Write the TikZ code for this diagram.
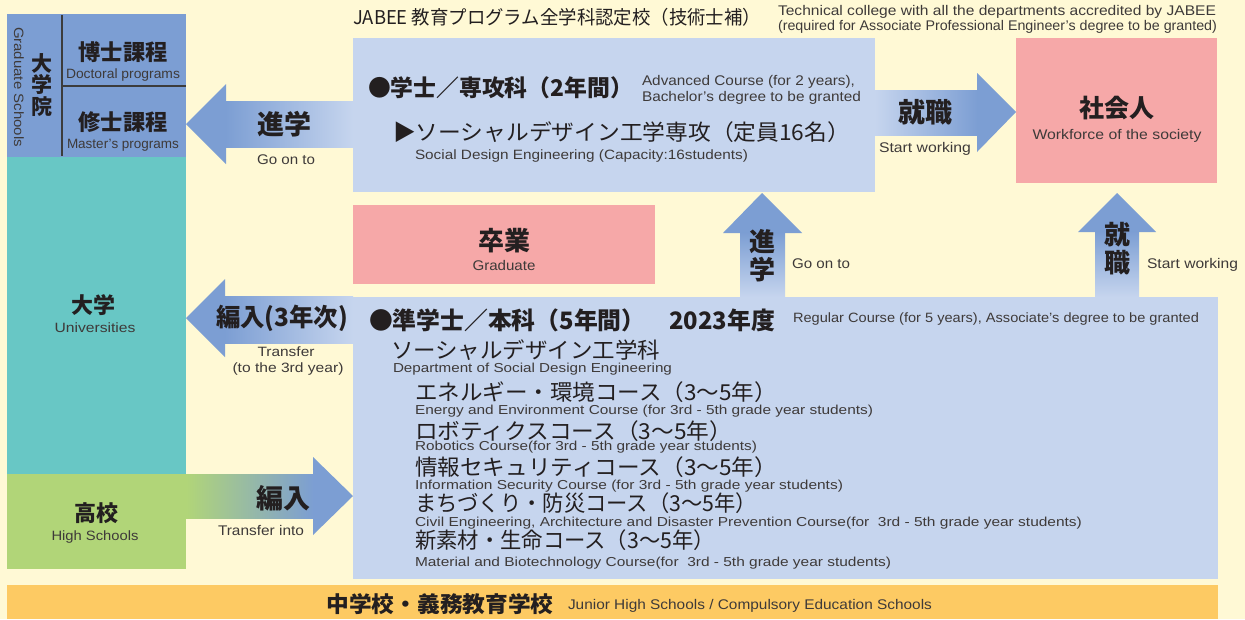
\documentclass[tikz,border=0pt]{standalone}
\usepackage{fontspec}
\usepackage{graphicx}
\setmainfont{Liberation Sans}
\newfontfamily\jp{Noto Sans CJK JP}
\definecolor{cBg}{HTML}{FFF9D5}
\definecolor{cDblue}{HTML}{7C9ED3}
\definecolor{cLblue}{HTML}{C6D5EE}
\definecolor{cTeal}{HTML}{68C7C5}
\definecolor{cGreen}{HTML}{B1D578}
\definecolor{cPink}{HTML}{F6A8A8}
\definecolor{cOrange}{HTML}{FDCA63}
\definecolor{cInk}{HTML}{231F20}
\definecolor{cGray}{HTML}{3E3A39}
\definecolor{cLine}{HTML}{3C3C3C}
\newlength\fitlen
\newcommand\fitto[2]{\settowidth\fitlen{#2}\pgfmathsetmacro\fitsx{#1/\fitlen}\scalebox{\fitsx}[1]{#2}}
\newcommand\fsz[1]{\fontsize{#1}{#1}\selectfont}
\begin{document}
\begin{tikzpicture}[x=1pt,y=-1pt,
  box/.style={anchor=north west, inner sep=0pt, outer sep=0pt},
  en/.style={font=\fsz{#1}, text=cGray, inner sep=0pt, outer sep=0pt, text height={0.72*#1pt}, text depth=0pt},
  ja/.style={font=\jp\fsz{#1}, text=cInk, inner sep=0pt, outer sep=0pt, text height={0.76*#1pt}, text depth=0pt},
  jab/.style={font=\jp\bfseries\fsz{#1}, text=cInk, inner sep=0pt, outer sep=0pt, text height={0.76*#1pt}, text depth=0pt},
  divider/.style={draw=cLine, line width=1.1pt}]
\useasboundingbox (0,0) rectangle (1245,619);
\fill[cBg] (0,0) rectangle (1245,619);

% ---------- boxes ----------
\node[box, fill=cDblue, minimum width=179pt, minimum height=143pt] (gs) at (7,14) {};
\node[box, fill=cTeal, minimum width=179pt, minimum height=317pt] (univ) at (7,157) {};
\node[box, fill=cGreen, minimum width=179pt, minimum height=95pt] (hs) at (7,474) {};
\node[box, fill=cOrange, minimum width=1211pt, minimum height=34pt] (jh) at (7,585) {};
\node[box, fill=cLblue, minimum width=522pt, minimum height=154pt] (adv) at (353,38) {};
\node[box, fill=cPink, minimum width=201pt, minimum height=145pt] (soc) at (1016,38) {};
\node[box, fill=cPink, minimum width=302pt, minimum height=79pt] (grad) at (353,205) {};
\node[box, fill=cLblue, minimum width=865pt, minimum height=282pt] (reg) at (353,297) {};

% graduate school dividers
\draw[divider] (62,15) -- (62,156);
\draw[divider] (62,86) -- (gs.east |- 0,86);

% ---------- block arrows ----------
% 進学 (to graduate school)
\fill[cDblue] (gs.east |- 0,124) -- (226,84) -- (226,164) -- cycle;
\shade[left color=cDblue, right color=cLblue] (225.5,101) rectangle (adv.west |- 0,147);
% 編入(3年次) (to universities)
\fill[cDblue] (univ.east |- 0,318) -- (225,279) -- (225,357) -- cycle;
\shade[left color=cDblue, right color=cLblue] (224.5,296) rectangle (reg.west |- 0,343);
% 編入 (from high schools)
\shade[left color=cGreen, right color=cDblue] (hs.east |- 0,474) rectangle (313.5,518);
\fill[cDblue] (313,457) -- (reg.west |- 0,496) -- (313,535) -- cycle;
% 就職 (advanced course -> society)
\shade[left color=cLblue, right color=cDblue] (adv.east |- 0,90) rectangle (977.5,135);
\fill[cDblue] (977,73) -- (soc.west |- 0,112) -- (977,152) -- cycle;
% 進学 (regular -> advanced)
\fill[cDblue] (762,193) -- (802,233) -- (723,233) -- cycle;
\shade[top color=cDblue, bottom color=cLblue] (740,232.5) rectangle (785,0 |- reg.north);
% 就職 (regular -> society)
\fill[cDblue] (1117,193) -- (1156,232) -- (1078,232) -- cycle;
\shade[top color=cDblue, bottom color=cLblue] (1095,231.5) rectangle (1139,0 |- reg.north);

% ---------- graduate schools ----------
\node[jab=21] (gs1) at (42,64) {大};
\node[jab=21] (gs2) at (42,85) {学};
\node[jab=21] (gs3) at (42,107) {院};
\node[en=13.5, rotate=-90] (gsen) at (19,87) {\fitto{120}{Graduate Schools}};
\node[jab=22] (doc) at (123,52) {\fitto{89}{博士課程}};
\node[en=13.5] (docen) at (123,74) {\fitto{114}{Doctoral programs}};
\node[jab=22] (mas) at (123,122) {\fitto{89}{修士課程}};
\node[en=13.5] (masen) at (123,144) {\fitto{112}{Master's programs}};

% universities / high schools
\node[jab=22] (univj) at (93,305) {大学};
\node[en=13.5] (unive) at (95,328) {\fitto{81}{Universities}};
\node[jab=22] (hsj) at (96,513) {高校};
\node[en=13.5] (hse) at (95,536) {\fitto{87}{High Schools}};

% ---------- top titles ----------
\node[ja=19, anchor=west] (jabee) at (353,17) {\fitto{408}{JABEE 教育プログラム全学科認定校（技術士補）}};
\node[en=14, anchor=west] (jabeeen1) at (778,10) {\fitto{438}{Technical college with all the departments accredited by JABEE}};
\node[en=14, anchor=west] (jabeeen2) at (778,25) {\fitto{439}{(required for Associate Professional Engineer's degree to be granted)}};

% ---------- advanced course ----------
\node[jab=23, anchor=west] (advh) at (368,88) {\fitto{265}{●学士／専攻科（2年間）}};
\node[en=14, anchor=west] (adve1) at (642,80) {\fitto{213}{Advanced Course (for 2 years),}};
\node[en=14, anchor=west] (adve2) at (642,96) {\fitto{219}{Bachelor's degree to be granted}};
\node[ja=22, anchor=west] (advm) at (393,132) {\fitto{457}{▶ソーシャルデザイン工学専攻（定員16名）}};
\node[en=13.5, anchor=west] (advme) at (415,155) {\fitto{333}{Social Design Engineering (Capacity:16students)}};

% ---------- society / graduate ----------
\node[jab=25] (socj) at (1117,108) {社会人};
\node[en=14] (soce) at (1117,134) {\fitto{169}{Workforce of the society}};
\node[jab=26] (gradj) at (504,241) {卒業};
\node[en=14] (grade) at (504,265) {\fitto{63}{Graduate}};

% ---------- arrow labels ----------
\node[jab=27] (l1) at (284,124) {進学};
\node[en=14] (l1e) at (286,159) {\fitto{58}{Go on to}};
\node[jab=25] (l2) at (282,317) {\fitto{132}{編入(3年次)}};
\node[en=13.5] (l2e1) at (286,352) {\fitto{57}{Transfer}};
\node[en=13.5] (l2e2) at (288,368) {\fitto{111}{(to the 3rd year)}};
\node[jab=27] (l3) at (283,498) {編入};
\node[en=14] (l3e) at (261,530) {\fitto{86}{Transfer into}};
\node[jab=27] (l4) at (925,112) {就職};
\node[en=14] (l4e) at (925,147) {\fitto{92}{Start working}};
\node[jab=26] (l5a) at (762,242) {進};
\node[jab=26] (l5b) at (762,270) {学};
\node[en=14, anchor=west] (l5e) at (792,263) {\fitto{58}{Go on to}};
\node[jab=26] (l6a) at (1117,235) {就};
\node[jab=26] (l6b) at (1117,263) {職};
\node[en=14, anchor=west] (l6e) at (1147,263) {\fitto{91}{Start working}};

% ---------- regular course ----------
\node[jab=24, anchor=west] (regh) at (369,320) {\fitto{406}{●準学士／本科（5年間）　2023年度}};
\node[en=13.5, anchor=west] (rege) at (793,318) {\fitto{406}{Regular Course (for 5 years), Associate's degree to be granted}};
\node[ja=22, anchor=west] (dep) at (391,350) {\fitto{269}{ソーシャルデザイン工学科}};
\node[en=13, anchor=west] (depe) at (393,368) {\fitto{279}{Department of Social Design Engineering}};
\node[ja=22, anchor=west] (c1) at (415,392) {\fitto{362}{エネルギー・環境コース（3～5年）}};
\node[en=13, anchor=west] (c1e) at (415,410) {\fitto{458}{Energy and Environment Course (for 3rd - 5th grade year students)}};
\node[ja=22, anchor=west] (c2) at (415,431) {\fitto{317}{ロボティクスコース（3～5年）}};
\node[en=13, anchor=west] (c2e) at (415,446) {\fitto{342}{Robotics Course(for 3rd - 5th grade year students)}};
\node[ja=22, anchor=west] (c3) at (415,467) {\fitto{362}{情報セキュリティコース（3～5年）}};
\node[en=13, anchor=west] (c3e) at (415,485) {\fitto{428}{Information Security Course (for 3rd - 5th grade year students)}};
\node[ja=22, anchor=west] (c4) at (415,503) {\fitto{342}{まちづくり・防災コース（3～5年）}};
\node[en=13, anchor=west] (c4e) at (415,522) {\fitto{667}{Civil Engineering, Architecture and Disaster Prevention Course(for\ \ 3rd - 5th grade year students)}};
\node[ja=22, anchor=west] (c5) at (415,540) {\fitto{300}{新素材・生命コース（3～5年）}};
\node[en=13, anchor=west] (c5e) at (415,562) {\fitto{476}{Material and Biotechnology Course(for\ \ 3rd - 5th grade year students)}};

% ---------- junior high ----------
\node[jab=22] (jhj) at (440,604) {\fitto{227}{中学校・義務教育学校}};
\node[en=14, anchor=west] (jhe) at (568,604) {\fitto{364}{Junior High Schools / Compulsory Education Schools}};
\end{tikzpicture}
\end{document}
